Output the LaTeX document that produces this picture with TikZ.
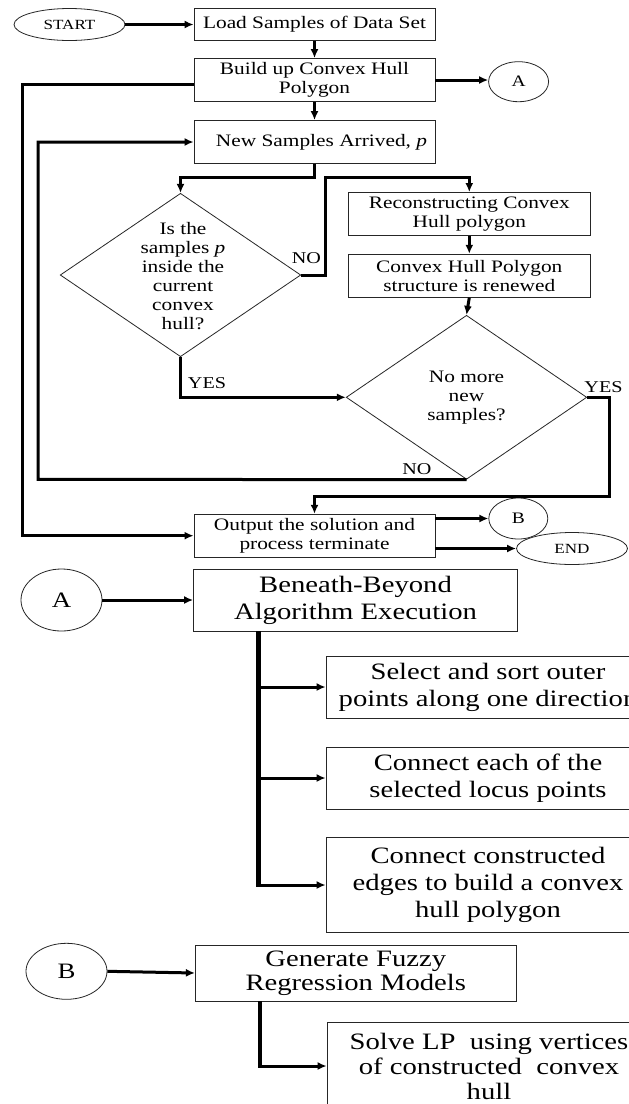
\documentclass[tikz,border=0pt]{standalone}
\usepackage{fontspec}
\setmainfont[FakeStretch=1.22]{Liberation Serif}
\usetikzlibrary{arrows.meta,shapes.geometric,calc}
\tikzset{
  box/.style={draw=black!85, line width=0.8pt, rectangle, inner sep=1pt, align=center,
    font=\fontsize{17.5}{19}\selectfont},
  bigbox/.style={box, font=\fontsize{23.5}{27}\selectfont},
  oval/.style={draw=black!85, line width=0.8pt, ellipse, inner sep=0pt},
  dia/.style={draw=black!85, line width=0.8pt, diamond, inner sep=0pt},
  diatext/.style={align=center, inner sep=0pt, font=\fontsize{17.5}{19}\selectfont},
  flow/.style={line width=3pt, -{Latex[length=9pt,width=8pt]}},
  trunk/.style={line width=4.5pt, line cap=rect},
  lbl/.style={font=\fontsize{16.5}{19}\selectfont, inner sep=0pt},
}
\begin{document}
\begin{tikzpicture}[x=1pt,y=-1pt]
\useasboundingbox (0,0) rectangle (629,1104);
\clip (0,0) rectangle (629,1104);
\fill[white] (0,0) rectangle (629,1104);

% upper flowchart
\node[oval, minimum width=111pt, minimum height=32pt, font=\fontsize{14}{16}\selectfont] (start) at (69.5,24.5) {START};
\node[box, minimum width=241pt, minimum height=32pt] (load) at (314.5,24.5) {Load Samples of Data Set};
\node[box, minimum width=241pt, minimum height=43pt] (build) at (314.5,80) {Build up Convex Hull\\Polygon};
\node[oval, minimum width=60pt, minimum height=40pt, font=\fontsize{16}{18}\selectfont] (A1) at (518.6,81.7) {A};
\node[box, minimum width=241pt, minimum height=43pt] (new) at (314.5,142) {\hspace*{14pt}New Samples Arrived, \textit{p}};
\node[dia, minimum width=240.6pt, minimum height=163.4pt] (d1) at (180.5,275) {};
\node[diatext] (d1t) at (183,276) {Is the\\samples \textit{p}\\inside the\\current\\convex\\hull?};
\node[box, minimum width=242pt, minimum height=43pt] (recon) at (469.3,214) {Reconstructing Convex\\Hull polygon};
\node[box, minimum width=242pt, minimum height=43pt] (convex) at (469.3,275.7) {Convex Hull Polygon\\structure is renewed};
\node[dia, minimum width=240.6pt, minimum height=164pt] (d2) at (466.5,397.3) {};
\node[diatext] (d2t) at (466.5,398) {No more\\new\\samples?};
\node[box, minimum width=241pt, minimum height=43pt] (output) at (314.5,535.7) {Output the solution and\\process terminate};
\node[oval, minimum width=59pt, minimum height=41pt, font=\fontsize{16}{18}\selectfont] (B1) at (518.3,518.5) {B};
\node[oval, minimum width=111pt, minimum height=32pt, font=\fontsize{14}{16}\selectfont] (end) at (572,548.5) {END};

\node[lbl] (no1) at (306.5,258) {NO};
\node[lbl] (yes1) at (207,383) {YES};
\node[lbl] (yes2) at (603.5,386.7) {YES};
\node[lbl] (no2) at (417,469) {NO};

\coordinate (L1) at (22,84);
\coordinate (L2) at (38,479.3);
\coordinate (J1) at (314.5,177.3);
\coordinate (J2) at (325,177.3);
\coordinate (J3) at (609,496.7);

\draw[flow] (start.east) -- (load.west);
\draw[flow] (load.south) -- (build.north);
\draw[flow] (build.east) -- (build.east -| A1.west);
\draw[flow] (build.south) -- (new.north);
\draw[flow] ([yshift=-4pt]build.west) -- (L1) |- (output.west);
\draw[flow] (d2.south) -- (L2) |- (new.west);
\draw[flow] (new.south) -- (J1) -| (d1.north);
\draw[flow] (d1.east) -| (J2) -| (recon.north);
\draw[flow] (recon.south) -- (convex.north);
\draw[flow] (convex.south) -- (d2.north);
\draw[flow] (d1.south) |- (d2.west);
\draw[flow] (d2.east) -| (J3) -| (output.north);
\draw[flow] (output.east |- B1.west) -- (B1.west);
\draw[flow] (output.east |- end.west) -- (end.west);

% sub-process A
\node[oval, minimum width=81pt, minimum height=62pt, font=\fontsize{22}{24}\selectfont] (A2) at (61.5,600) {A};
\node[bigbox, minimum width=324pt, minimum height=62pt] (bb) at (355.5,600) {Beneath-Beyond\\Algorithm Execution};
\node[bigbox, minimum width=324pt, minimum height=62pt] (sel) at (488,687) {Select and sort outer\\points along one direction};
\node[bigbox, minimum width=324pt, minimum height=62pt] (conn) at (488,778) {Connect each of the\\selected locus points};
\node[bigbox, minimum width=324pt, minimum height=95pt] (cc) at (488,885) {Connect constructed\\edges to build a convex\\hull polygon};
\coordinate (T1) at (258.7,633);

\draw[flow] (A2.east) -- (bb.west);
\draw[trunk] (T1) -- (T1 |- cc.west);
\draw[flow] (T1 |- sel.west) -- (sel.west);
\draw[flow] (T1 |- conn.west) -- (conn.west);
\draw[flow] (T1 |- cc.west) -- (cc.west);

% sub-process B
\node[oval, minimum width=81pt, minimum height=56pt, font=\fontsize{22}{24}\selectfont] (B2) at (66.5,971.3) {B};
\node[bigbox, minimum width=321pt, minimum height=56pt, font=\fontsize{23.5}{24}\selectfont] (gen) at (355.8,973) {Generate Fuzzy\\Regression Models};
\node[bigbox, minimum width=324pt, minimum height=88pt, font=\fontsize{23.5}{25}\selectfont] (solve) at (489,1066) {Solve LP\ \ using vertices\\of constructed\ \ convex\\hull};
\coordinate (T2) at (260,1003);

\draw[flow] (B2.east) -- (gen.west);
\draw[trunk] (T2) -- (T2 |- solve.west);
\draw[flow] (T2 |- solve.west) -- (solve.west);
\end{tikzpicture}
\end{document}
